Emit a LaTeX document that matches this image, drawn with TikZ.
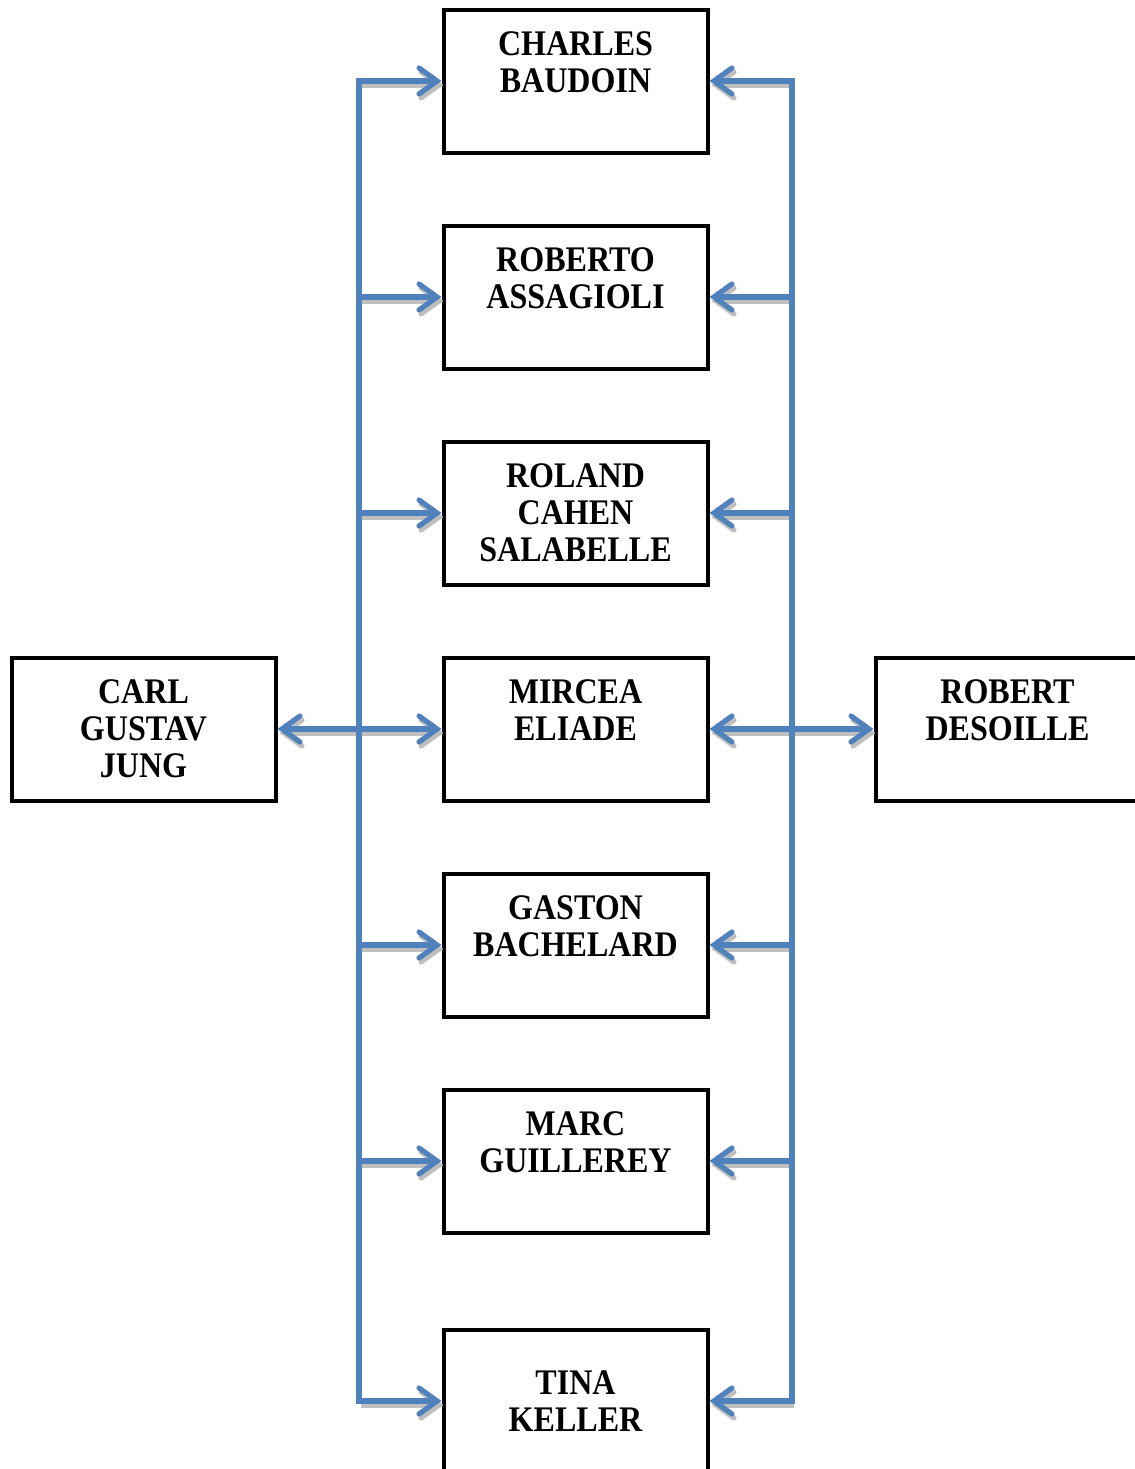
\documentclass[tikz,border=0pt]{standalone}
\usepackage{fontspec}
\setmainfont{Liberation Serif}[FakeStretch=0.89]
\usetikzlibrary{arrows.meta}
\definecolor{linkblue}{HTML}{4F81BD}
\tikzstyle{person} = [rectangle, draw, line width=2pt, inner sep=0pt,
    minimum width=132pt, minimum height=71.5pt, align=center,
    font=\fontsize{18pt}{18.5pt}\selectfont\bfseries]
\tikzstyle{trunk} = [draw=linkblue, line width=2.6pt, line cap=rect]
\tikzstyle{link} = [draw=linkblue, line width=2.6pt, ->]
\tikzstyle{shade} = [draw=black!25, line width=2.6pt, ->,
    transform canvas={shift={(1pt,-2pt)}}]

\begin{document}
\begin{tikzpicture}[x=0.5pt,y=-0.5pt,node distance=108pt,
                    >={Straight Barb[length=9pt,width=13pt,line cap=round]}]
  \useasboundingbox (0,0) rectangle (1135,1469);

  \node[person] (charles) at (575.5,81)   {CHARLES\\BAUDOIN\\~};
  \node[person] (roberto) [below of=charles] {ROBERTO\\ASSAGIOLI\\~};
  \node[person] (roland)  [below of=roberto] {ROLAND\\CAHEN\\SALABELLE};
  \node[person] (mircea)  [below of=roland]  {MIRCEA\\ELIADE\\~};
  \node[person] (gaston)  [below of=mircea]  {GASTON\\BACHELARD\\~};
  \node[person] (marc)    [below of=gaston]  {MARC\\GUILLEREY\\~};
  \node[person] (tina)    [below of=marc,node distance=120pt] {TINA\\KELLER};
  \node[person] (jung)     [left of=mircea,node distance=216pt]  {CARL\\GUSTAV\\JUNG};
  \node[person] (desoille) [right of=mircea,node distance=216pt] {ROBERT\\DESOILLE\\~};

  \coordinate (ltop) at (359,81);
  \coordinate (lbot) at (359,1401);
  \coordinate (rtop) at (792,81);
  \coordinate (rbot) at (792,1401);

  % shadows first, then the blue arrows
  \foreach \n in {charles,roberto,roland,gaston,marc,tina} {
    \draw[shade] (ltop |- \n.west) -- (\n.west);
    \draw[shade] (rtop |- \n.east) -- (\n.east);
  }
  \draw[shade,<->] (jung) -- (mircea);
  \draw[shade,<->] (mircea) -- (desoille);

  \draw[trunk] (ltop) -- (lbot);
  \draw[trunk] (rtop) -- (rbot);
  \foreach \n in {charles,roberto,roland,gaston,marc,tina} {
    \draw[link] (ltop |- \n.west) -- (\n.west);
    \draw[link] (rtop |- \n.east) -- (\n.east);
  }
  \draw[link,<->] (jung) -- (mircea);
  \draw[link,<->] (mircea) -- (desoille);
\end{tikzpicture}
\end{document}
